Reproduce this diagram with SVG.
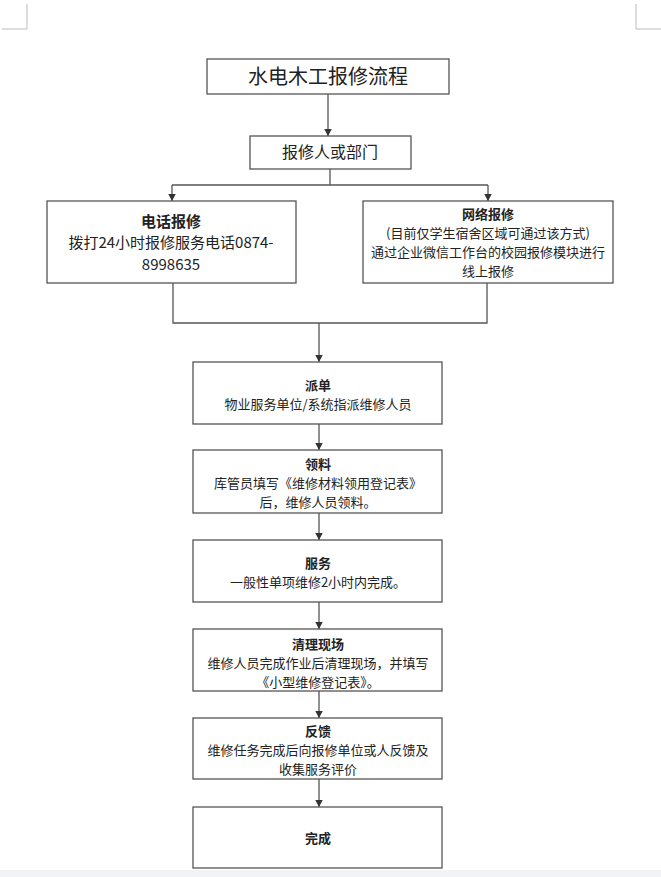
<svg xmlns="http://www.w3.org/2000/svg" width="661" height="877" viewBox="0 0 661 877">
<defs>
<marker id="ah" markerUnits="userSpaceOnUse" markerWidth="8" markerHeight="9" refX="7.5" refY="4.5" orient="auto">
<path d="M0,0.5 L7.5,4.5 L0,8.5 z" fill="#333"/>
</marker>
<style>
.box{fill:#fff;stroke:#555;stroke-width:1.3}
.ln{fill:none;stroke:#555;stroke-width:1.3}
.ar{marker-end:url(#ah)}
text{font-family:"Microsoft YaHei","Noto Sans CJK SC","Noto Sans",sans-serif;fill:#222;text-anchor:middle}
.t13{font-size:13px}
.t15{font-size:15px}
.b{font-weight:bold}
.crop{fill:none;stroke:#bbb;stroke-width:1}
</style>
</defs>
<rect x="0" y="0" width="661" height="877" fill="#fff"/>
<rect x="0" y="870" width="661" height="7" fill="#f2f3f5"/>
<path class="crop" d="M27,4 V29 H2"/>
<path class="crop" d="M636,4 V29 H661"/>

<g id="connectors">
<path class="ln ar" d="M328,94 V136"/>
<path class="ln" d="M330,169 V185 M172,185 H488"/>
<path class="ln ar" d="M172,185 V201"/>
<path class="ln ar" d="M488,185 V201"/>
<path class="ln" d="M173,283 V323 H487 V283"/>
<path class="ln ar" d="M319,323 V362"/>
<path class="ln ar" d="M319,424 V450"/>
<path class="ln ar" d="M319,513 V540"/>
<path class="ln ar" d="M319,602 V629"/>
<path class="ln ar" d="M319,691 V718"/>
<path class="ln ar" d="M319,779 V807"/>
</g>

<g id="title">
<rect class="box" x="207" y="59" width="242" height="35"/>
<text x="328" y="84" style="font-size:20px">水电木工报修流程</text>
</g>
<g id="reporter">
<rect class="box" x="250" y="136" width="161" height="33"/>
<text x="330" y="158" style="font-size:16px">报修人或部门</text>
</g>
<g id="phone">
<rect class="box" x="47" y="201" width="249" height="82"/>
<text class="t15 b" x="171" y="226.5">电话报修</text>
<text class="t15" x="171" y="248">拨打24小时报修服务电话0874-</text>
<text class="t15" x="171" y="269.5">8998635</text>
</g>
<g id="online">
<rect class="box" x="363" y="201" width="250" height="82"/>
<text class="t13 b" x="488" y="218.5">网络报修</text>
<text class="t13" x="488" y="237.5">(目前仅学生宿舍区域可通过该方式)</text>
<text class="t13" x="488" y="256.5">通过企业微信工作台的校园报修模块进行</text>
<text class="t13" x="488" y="275.5">线上报修</text>
</g>
<g id="dispatch">
<rect class="box" x="193" y="362" width="249" height="62"/>
<text class="t13 b" x="318" y="389.5">派单</text>
<text class="t13" x="318" y="408.5">物业服务单位/系统指派维修人员</text>
</g>
<g id="material">
<rect class="box" x="193" y="450" width="249" height="63"/>
<text class="t13 b" x="318" y="468.5">领料</text>
<text class="t13" x="318" y="487.5">库管员填写《维修材料领用登记表》</text>
<text class="t13" x="318" y="506.5">后，维修人员领料。</text>
</g>
<g id="service">
<rect class="box" x="193" y="540" width="249" height="62"/>
<text class="t13 b" x="318" y="567.5">服务</text>
<text class="t13" x="318" y="586.5">一般性单项维修2小时内完成。</text>
</g>
<g id="cleanup">
<rect class="box" x="193" y="629" width="249" height="62"/>
<text class="t13 b" x="318" y="648.5">清理现场</text>
<text class="t13" x="318" y="667.5">维修人员完成作业后清理现场，并填写</text>
<text class="t13" x="318" y="686.5">《小型维修登记表》。</text>
</g>
<g id="feedback">
<rect class="box" x="193" y="718" width="249" height="61"/>
<text class="t13 b" x="318" y="735.5">反馈</text>
<text class="t13" x="318" y="754.5">维修任务完成后向报修单位或人反馈及</text>
<text class="t13" x="318" y="773.5">收集服务评价</text>
</g>
<g id="done">
<rect class="box" x="193" y="807" width="249" height="61"/>
<text class="t13 b" x="318" y="842.5">完成</text>
</g>
</svg>
